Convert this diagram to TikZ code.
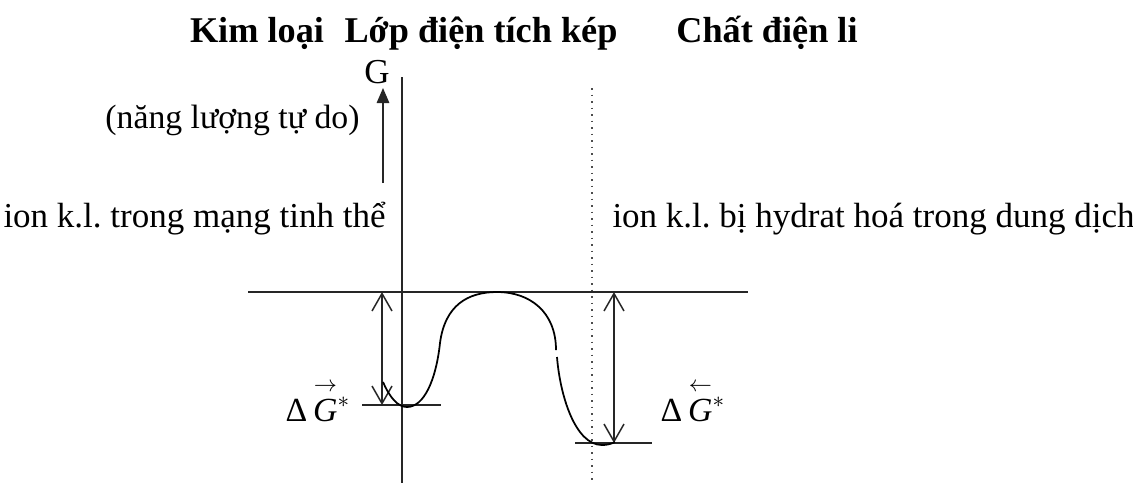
\documentclass[tikz,border=0pt]{standalone}
\usepackage{amsmath}
\usepackage{fontspec}
\setmainfont{Liberation Serif}
\usetikzlibrary{arrows.meta}

\begin{document}
\frenchspacing
\begin{tikzpicture}[
  x=0.4pt, y=-0.4pt,
  txt/.style={font=\fontsize{14}{16}\selectfont, inner sep=0pt},
  ttl/.style={font=\fontsize{14.5}{17}\selectfont\bfseries, inner sep=0pt, anchor=base},
  lvl/.style={line width=0.6pt, black!85},
  dbl/.style={{Straight Barb[length=7pt,width=8pt]}-{Straight Barb[length=7pt,width=8pt]},
              line width=0.6pt, black!85},
  up/.style={-{Triangle[length=6pt,width=5pt]}, line width=0.6pt, black!85},
  crv/.style={line width=0.7pt}]
\useasboundingbox (0,0) rectangle (1133,483);

% headings
\node[ttl] (kl) at (257,42) {Kim loại};
\node[ttl] (lop) at (481,42) {Lớp điện tích kép};
\node[ttl] (cdl) at (767,42) {Chất điện li};

% axis G
\node[txt, anchor=base] (g) at (377,83) {G};
\coordinate (gtail) at (383,183);
\coordinate (gtip) at (383,88);
\draw[up] (gtail) -- (gtip);
\coordinate (axtop) at (402,77);
\coordinate (axbot) at (402,483);
\draw[lvl] (axtop) -- (axbot);
\coordinate (dtop) at (592,88);
\coordinate (dbot) at (592,483);
\draw[dotted, line width=0.6pt, black!70] (dtop) -- (dbot);

% texts
\node[txt, font=\fontsize{13.5}{15}\selectfont, anchor=base east] (nl) at (360,128) {(năng lượng tự do)};
\node[txt, anchor=base west] (ionl) at (3,227) {ion k.l. trong mạng tinh thể};
\node[txt, anchor=base west] (ionr) at (612,227) {ion k.l. bị hydrat hoá trong dung dịch};

% levels
\coordinate (top1) at (248,292);
\coordinate (top2) at (748,292);
\coordinate (l1) at (362,405);
\coordinate (l2) at (441,405);
\coordinate (r1) at (575,443);
\coordinate (r2) at (652,443);
\draw[lvl] (top1) -- (top2);
\draw[lvl] (l1) -- (l2);
\draw[lvl] (r1) -- (r2);

% energy differences
\coordinate (la) at (382,292);
\coordinate (lb) at (382,405);
\coordinate (ra) at (614,292);
\coordinate (rb) at (614,443);
\draw[dbl] (la) -- (lb);
\draw[dbl] (ra) -- (rb);

% profile
\draw[crv] (383,382) .. controls (390,398) and (398,407) .. (407,407)
  .. controls (424,407) and (436,380) .. (440,343)
  .. controls (445,305) and (468,292) .. (497,292)
  .. controls (530,292) and (556,312) .. (556,350);
\draw[crv] (557,357) .. controls (560,395) and (575,445) .. (602,445)
  .. controls (607,445) and (611,444) .. (615,442);

% labels
\node[txt, font=\fontsize{13.5}{15}\selectfont, anchor=base west] (dgl) at (285,421) {$\text{Δ}\,\overset{\rightarrow}{\textit{G}}{}^{*}$};
\node[txt, font=\fontsize{13.5}{15}\selectfont, anchor=base west] (dgr) at (660,421) {$\text{Δ}\,\overset{\leftarrow}{\textit{G}}{}^{*}$};
\end{tikzpicture}
\end{document}
